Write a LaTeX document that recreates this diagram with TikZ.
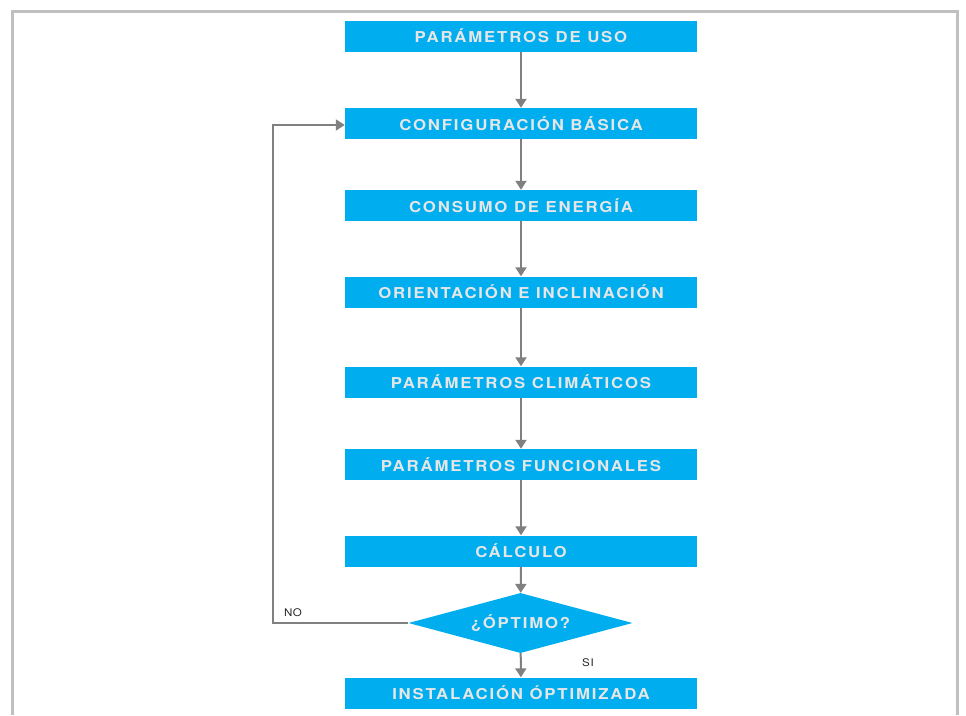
\documentclass[tikz,border=0pt]{standalone}
\usepackage{fontspec}
\setmainfont{Liberation Sans}
\newfontfamily\boxfont[LetterSpace=12,FakeStretch=1.12]{TeX Gyre Heros}
\newfontfamily\lblfont[LetterSpace=6,FakeStretch=1.1]{TeX Gyre Heros}
\usetikzlibrary{shapes.geometric,arrows.meta}
\definecolor{boxblue}{HTML}{00AEEF}
\definecolor{boxtext}{HTML}{E6E6E6}
\definecolor{arrowgray}{HTML}{808080}
\definecolor{framegray}{HTML}{C0C0C0}
\tikzset{
  stepbox/.style={fill=boxblue, draw=none, minimum width=352pt, minimum height=31pt,
    inner sep=0pt, text=boxtext, font=\boxfont\bfseries\fontsize{15pt}{17pt}\selectfont},
  decision/.style={diamond, fill=boxblue, draw=none, minimum width=224pt, minimum height=60pt,
    aspect=3.7, inner sep=0pt, text=boxtext, font=\boxfont\bfseries\fontsize{15pt}{17pt}\selectfont},
  flow/.style={draw=arrowgray, line width=2pt, -{Triangle[width=11pt,length=9pt]}},
  lbl/.style={font=\lblfont\fontsize{10.5pt}{13pt}\selectfont, text=black!85, inner sep=0pt}
}
\begin{document}
\begin{tikzpicture}[x=1pt,y=-1pt]
\useasboundingbox (0,0) rectangle (966,715);
\draw[framegray, line width=3pt] (12.5,715) -- (12.5,11) -- (957.5,11) -- (957.5,715);
\node[stepbox] (b1) at (521,36) {PARÁMETROS DE USO};
\node[stepbox] (b2) at (521,123.5) {CONFIGURACIÓN BÁSICA};
\node[stepbox] (b3) at (521,205.5) {CONSUMO DE ENERGÍA};
\node[stepbox] (b4) at (521,292) {ORIENTACIÓN E INCLINACIÓN};
\node[stepbox] (b5) at (521,382) {PARÁMETROS CLIMÁTICOS};
\node[stepbox] (b6) at (521,464.5) {PARÁMETROS FUNCIONALES};
\node[stepbox] (b7) at (521,551) {CÁLCULO};
\node[decision] (d) at (520.5,623) {¿ÓPTIMO?};
\node[stepbox] (b8) at (521,693) {INSTALACIÓN ÓPTIMIZADA};
\coordinate (lb) at (273,623);
\coordinate (lt) at (273,125);
\draw[flow] (b1) -- (b2);
\draw[flow] (b2) -- (b3);
\draw[flow] (b3) -- (b4);
\draw[flow] (b4) -- (b5);
\draw[flow] (b5) -- (b6);
\draw[flow] (b6) -- (b7);
\draw[flow] (b7) -- (d);
\draw[flow] (d) -- (b8);
\draw[flow] (d.west) -- (lb) -- (lt) -- (lt -| b2.west);
\node[lbl] (no) at (293,613) {NO};
\node[lbl] (si) at (588,663) {SI};
\end{tikzpicture}
\end{document}
